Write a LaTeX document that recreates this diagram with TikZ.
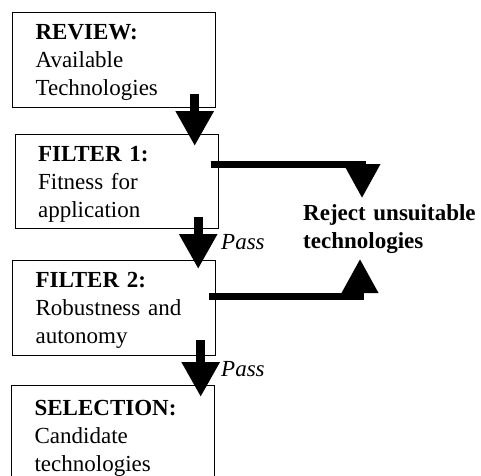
\documentclass[tikz,border=0pt]{standalone}
\usepackage{fontspec}
\setmainfont{Liberation Serif}
\usetikzlibrary{arrows.meta,calc}
\newcommand{\topstrut}{\rule{0pt}{20pt}}
\begin{document}
\begin{tikzpicture}[x=1pt,y=-1pt,
  box/.style={draw,line width=1.2pt,anchor=north west,minimum width=203pt,minimum height=95pt,
    text width=157pt,inner xsep=23pt,inner ysep=0pt,align=left,font=\fontsize{23}{28}\selectfont},
  flow/.style={line width=9pt,-{Triangle[width=36pt,length=35pt]}},
  rejarrow/.style={line width=7pt,line join=miter,-{Triangle[width=35pt,length=34pt]}},
  lab/.style={font=\fontsize{23}{28}\selectfont\itshape,anchor=base west,inner sep=0pt},
  rejtext/.style={font=\fontsize{23}{28}\selectfont\bfseries,anchor=base west,inner sep=0pt,
    text width=180pt,align=left}]
\useasboundingbox (0,0) rectangle (481,475);
\clip (0,0) rectangle (481,475);
\fill[white] (0,0) rectangle (481,475);

\node[box] (b1) at (12,12) {\topstrut\textbf{REVIEW:}\\Available\\Technologies};
\node[box,minimum height=94pt] (b2) at (14.5,134) {\topstrut\textbf{FILTER 1:}\\Fitness for\\application};
\node[box] (b3) at (12,260) {\topstrut\textbf{FILTER 2:}\\Robustness and\\autonomy};
\node[box,minimum height=100pt] (b4) at (11,385) {\topstrut\textbf{SELECTION:}\\Candidate\\technologies};

\node[rejtext] (rej) at (303,220) {Reject unsuitable\\technologies};

\node[lab] (p1) at (221,249) {Pass};
\node[lab] (p2) at (221,376) {Pass};

% downward flow arrows
\coordinate (a1) at ($(b1.south east)+(-21.5,-14)$);
\draw[flow] (a1) -- ($(a1 |- b2.north)+(0,12)$);
\coordinate (a2) at ($(b2.south east)+(-20.5,-12)$);
\draw[flow] (a2) -- ($(a2 |- b3.north)+(0,9)$);
\coordinate (a3) at ($(b3.south east)+(-15.5,-16)$);
\draw[flow] (a3) -- ($(a3 |- b4.north)+(0,12)$);

% reject arrows
\draw[rejarrow] ($(b2.east)+(-8,-17)$) -| ($(rej.base west)+(59,-22)$);
\draw[rejarrow] ($(b3.east)+(-7,-12)$) -| ($(rej.base west)+(57,39)$);
\end{tikzpicture}
\end{document}
